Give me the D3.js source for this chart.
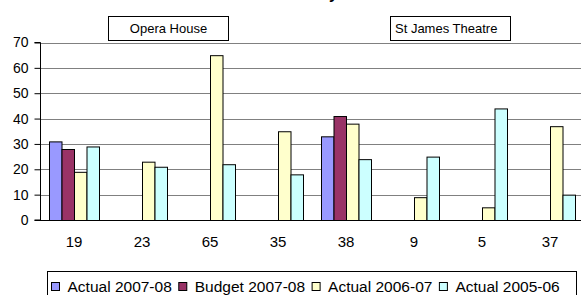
<!DOCTYPE html>
<html>
<head>
<meta charset="utf-8">
<script src="https://cdn.jsdelivr.net/npm/d3@7"></script>
<style>
  body { margin: 0; background: #fff; }
  svg { display: block; }
  svg text { font-family: "Liberation Sans", Arial, sans-serif; }
</style>
</head>
<body>
<div id="wrapper"></div>
<script>
const categories = ["19", "23", "65", "35", "38", "9", "5", "37"];
const seriesNames = ["Actual 2007-08", "Budget 2007-08", "Actual 2006-07", "Actual 2005-06"];
const actual0708 = [31, null, null, null, 33, null, null, null];
const budget0708 = [28, null, null, null, 41, null, null, null];
const actual0607 = [19, 23, 65, 35, 38, 9, 5, 37];
const actual0506 = [29, 21, 22, 18, 24, 25, 44, 10];
const yTicks = [0, 10, 20, 30, 40, 50, 60, 70];
const venues = ["Opera House", "St James Theatre"];
const title = "Attendance by Month";

const colors = ["#9999FF", "#993366", "#FFFFCC", "#CCFFFF"];
const seriesValues = [actual0708, budget0708, actual0607, actual0506];

const width = 581, height = 295;
const dims = { left: 40, right: 584, top: 42.5, bottom: 220 };

const svg = d3.select("#wrapper").append("svg")
    .attr("width", width)
    .attr("height", height);

// title sits above the frame, only the "y" tail shows
const titleText = svg.append("text")
    .attr("y", -1)
    .attr("font-size", "16px")
    .attr("font-weight", "bold")
    .text(title);
const yIdx = title.indexOf("y");
titleText.attr("x", 329 - titleText.node().getSubStringLength(0, yIdx));

const x = d3.scaleBand()
    .domain(categories)
    .range([dims.left, dims.right])
    .paddingInner(18 / 68)
    .paddingOuter(9 / 68);

const xSeries = d3.scaleBand()
    .domain(d3.range(seriesNames.length))
    .range([0, x.bandwidth()]);

const y = d3.scaleLinear()
    .domain([0, 70])
    .range([dims.bottom, dims.top]);

// gridlines
svg.append("g")
    .selectAll("line")
    .data(yTicks.filter(d => d > 0))
    .join("line")
    .attr("x1", dims.left)
    .attr("x2", width)
    .attr("y1", d => Math.round(y(d)) + 0.5)
    .attr("y2", d => Math.round(y(d)) + 0.5)
    .attr("stroke", "#808080");

// bars
const rows = categories.map((c, i) => ({ cat: c, vals: seriesValues.map(s => s[i]) }));
const groups = svg.append("g")
    .selectAll("g")
    .data(rows)
    .join("g")
    .attr("transform", d => `translate(${x(d.cat)},0)`);

groups.selectAll("rect")
    .data(d => d.vals.map((v, k) => ({ v, k })).filter(e => e.v != null))
    .join("rect")
    .attr("x", d => xSeries(d.k) + 0.5)
    .attr("y", d => y(d.v) + 0.5)
    .attr("width", xSeries.bandwidth())
    .attr("height", d => y(0) - y(d.v))
    .attr("fill", d => colors[d.k])
    .attr("stroke", "#000")
    .attr("stroke-width", 1);

// y axis
const yAxis = svg.append("g")
    .attr("transform", `translate(${dims.left + 0.5},0)`)
    .call(d3.axisLeft(y).tickValues(yTicks).tickSize(6).tickPadding(6));
yAxis.attr("font-family", null);
yAxis.selectAll("text").attr("font-size", "14px").attr("fill", "#000");
yAxis.selectAll("line, path").attr("stroke", "#000");
yAxis.select(".domain").attr("d", `M-6,${y(70)}H0V${y(0)}H-6`);

// x axis
const xAxis = svg.append("g")
    .attr("transform", `translate(0,${Math.round(y(0)) + 0.5})`)
    .call(d3.axisBottom(x).tickSize(0).tickPadding(16));
xAxis.attr("font-family", null);
xAxis.select(".domain").attr("d", `M${dims.left},0H${width}`).attr("stroke", "#000");
xAxis.selectAll("text").attr("font-size", "15px").attr("fill", "#000");

// venue labels
const venueBoxes = [
    { name: venues[0], x0: 108.5, x1: 228.5, anchor: "middle" },
    { name: venues[1], x0: 390.5, x1: 510.5, anchor: "start" }
];
venueBoxes.forEach(b => {
    svg.append("rect")
        .attr("x", b.x0).attr("y", 16.5)
        .attr("width", b.x1 - b.x0).attr("height", 24)
        .attr("fill", "#fff").attr("stroke", "#000");
    svg.append("text")
        .attr("x", b.anchor === "middle" ? (b.x0 + b.x1) / 2 : b.x0 + 4.5)
        .attr("y", 33)
        .attr("text-anchor", b.anchor)
        .attr("font-size", "13px")
        .text(b.name);
});

// legend
svg.append("rect")
    .attr("x", 47.5).attr("y", 271.5)
    .attr("width", 529).attr("height", 40)
    .attr("fill", "#fff").attr("stroke", "#000");

let lx = 51.5;
seriesNames.forEach((name, i) => {
    svg.append("rect")
        .attr("x", lx).attr("y", 282.5)
        .attr("width", 8).attr("height", 8)
        .attr("fill", colors[i]).attr("stroke", "#000");
    const t = svg.append("text")
        .attr("x", lx + 16)
        .attr("y", 291.5)
        .attr("font-size", "15.5px")
        .text(name);
    lx += 16 + t.node().getComputedTextLength() + 7;
});
</script>
</body>
</html>
